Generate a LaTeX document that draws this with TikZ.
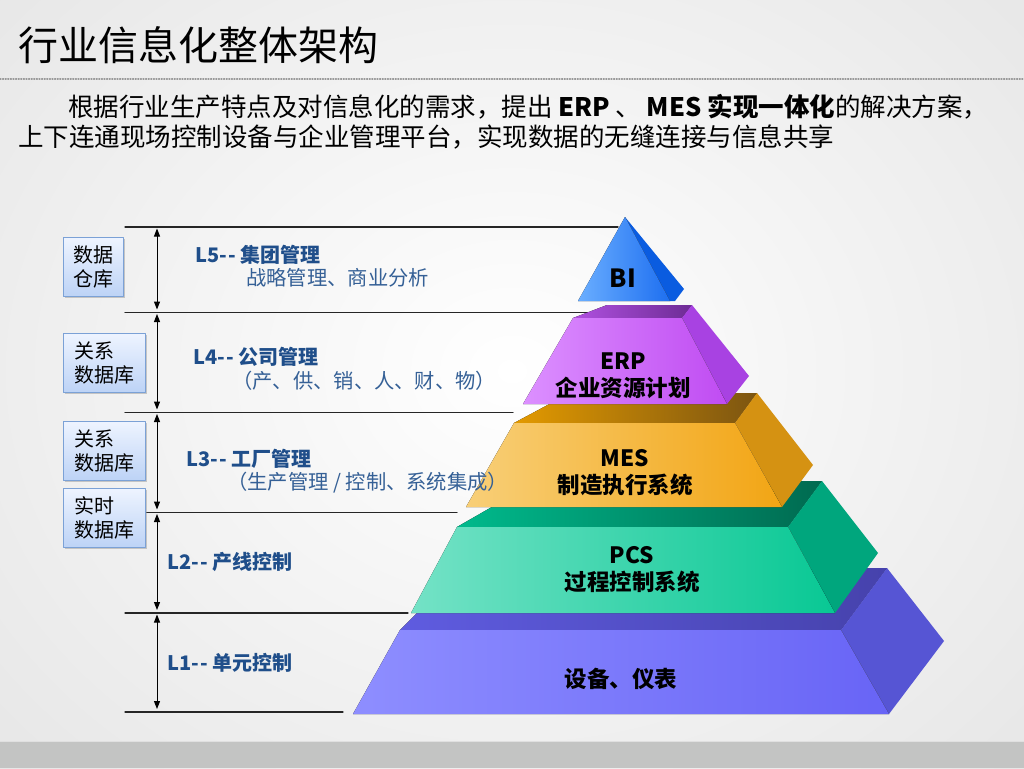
\documentclass[tikz,border=0pt]{standalone}
\usepackage{fontspec}
\setmainfont{Noto Sans CJK SC}
\usepackage{xcolor}
\usetikzlibrary{arrows.meta, shadows}
\definecolor{lvblue}{HTML}{1F4E8A}
\definecolor{boxedge}{HTML}{7BA1D6}
\definecolor{boxtop}{HTML}{EEF4FF}
\definecolor{boxbot}{HTML}{BDD3F6}
\definecolor{bandgray}{HTML}{C3C4C3}
\definecolor{devtopL}{HTML}{5F5CE0}\definecolor{devtopR}{HTML}{4642AC}
\definecolor{devside}{HTML}{5655D4}
\definecolor{devL}{HTML}{8E8EFF}\definecolor{devR}{HTML}{6864F6}
\definecolor{pcstopL}{HTML}{00BA8C}\definecolor{pcstopR}{HTML}{006A50}
\definecolor{pcsside}{HTML}{00A67D}
\definecolor{pcsL}{HTML}{74E2C6}\definecolor{pcsR}{HTML}{08C894}
\definecolor{mestopL}{HTML}{E39A00}\definecolor{mestopR}{HTML}{7C5511}
\definecolor{messide}{HTML}{D59212}
\definecolor{mesL}{HTML}{F8CF78}\definecolor{mesR}{HTML}{F2A514}
\definecolor{erptopL}{HTML}{B050E0}\definecolor{erptopR}{HTML}{6E2C95}
\definecolor{erpside}{HTML}{A842E2}
\definecolor{erpL}{HTML}{DC90FF}\definecolor{erpR}{HTML}{C04CF2}
\definecolor{biside}{HTML}{0A5CE0}
\definecolor{biL}{HTML}{6AAEFF}\definecolor{biR}{HTML}{1E6FF0}

\begin{document}
\begin{tikzpicture}[x=1pt, y=-1pt, line cap=round, line join=round,
	lvlline/.style={line width=1.3pt, draw=black!85},
	dimarrow/.style={line width=1pt, {Triangle[length=8pt,width=6pt]}-{Triangle[length=8pt,width=6pt]}},
	dbbox/.style={draw=boxedge, line width=1pt, top color=boxtop, bottom color=boxbot,
		minimum height=59pt, inner sep=0pt, align=left, font=\fontsize{20}{24}\selectfont,
		drop shadow={shadow xshift=1.5pt, shadow yshift=-1.5pt, fill=black!40, opacity=0.5}},
	lvltitle/.style={anchor=west, inner sep=0pt, text=lvblue, font=\fontsize{20}{24}\selectfont\bfseries},
	lvlsub/.style={anchor=west, inner sep=0pt, text=lvblue!90, font=\fontsize{20.3}{24}\selectfont},
	layertext/.style={align=center, inner sep=0pt, font=\fontsize{22.5}{27}\selectfont\bfseries}]
	\useasboundingbox (0,0) rectangle (1024,768);
	\shade[inner color=white, outer color=black!11] (-300,-300) rectangle (1324,1042);
	\fill[bandgray] (0,742) rectangle (1024,768);
	\draw[black!12, line width=1.5pt] (0,741.5) -- (1024,741.5);
	
	\node[anchor=west, inner sep=0pt, font=\fontsize{40}{46}\selectfont] (title) at (18,45) {行业信息化整体架构};
	\draw[black!40, line width=1.2pt, dash pattern=on 1pt off 1.6pt] (0,79) -- (1024,79);
	\node[anchor=west, inner sep=0pt, font=\fontsize{25.5}{30}\selectfont] (intro1) at (68,107)
		{根据行业生产特点及对信息化的需求，提出 \textbf{ERP} 、 \textbf{MES 实现一体化}的解决方案，};
	\node[anchor=west, inner sep=0pt, font=\fontsize{25.5}{30}\selectfont] (intro2) at (18,137)
		{上下连通现场控制设备与企业管理平台，实现数据的无缝连接与信息共享};
	
	\draw[lvlline] (125,227) -- (618,227);
	\draw[lvlline] (125,312.5) -- (600,312.5);
	\draw[lvlline] (125,412.5) -- (513,412.5);
	\draw[lvlline] (125,512.5) -- (457,512.5);
	\draw[lvlline] (125,613) -- (408,613);
	\draw[lvlline] (125,712) -- (343,712);
	
	\coordinate (lv6) at (157,227);
	\coordinate (lv5) at (157,312.5);
	\coordinate (lv4) at (157,412.5);
	\coordinate (lv3) at (157,512.5);
	\coordinate (lv2) at (157,613);
	\coordinate (lv1) at (157,712);
	\foreach \i/\j in {6/5,5/4,4/3,3/2,2/1}
		\draw[dimarrow] ([yshift=-1.5pt]lv\i) -- ([yshift=3pt]lv\j);
	
	\node[dbbox, minimum width=60pt] (dwh) at (93,266.5) {数据\\仓库};
	\node[dbbox, minimum width=82pt] (rdb1) at (104,362.5) {关系\\数据库};
	\node[dbbox, minimum width=82pt] (rdb2) at (104,450.5) {关系\\数据库};
	\node[dbbox, minimum width=82pt] (rtdb) at (104,517.5) {实时\\数据库};
	
	% 设备、仪表
	\fill[left color=devtopL, right color=devtopR] (400,630) -- (462,568) -- (887,568) -- (841,630) -- cycle;
	\fill[devside] (841,630) -- (887,568) -- (944,641) -- (889,714) -- cycle;
	\fill[left color=devL, right color=devR] (353,714) -- (400,630) -- (841,630) -- (889,714) -- cycle;
	% PCS
	\fill[left color=pcstopL, right color=pcstopR] (457,527) -- (537,481) -- (822,481) -- (788,527) -- cycle;
	\fill[pcsside] (788,527) -- (822,481) -- (878,553) -- (835,613) -- cycle;
	\fill[left color=pcsL, right color=pcsR] (411,613) -- (457,527) -- (788,527) -- (835,613) -- cycle;
	% MES
	\fill[left color=mestopL, right color=mestopR] (514,423) -- (570,393) -- (757,393) -- (735,423) -- cycle;
	\fill[messide] (735,423) -- (757,393) -- (813,465) -- (782,507) -- cycle;
	\fill[left color=mesL, right color=mesR] (466,507) -- (514,423) -- (735,423) -- (782,507) -- cycle;
	% ERP
	\fill[left color=erptopL, right color=erptopR] (573,318) -- (607,305) -- (692,305) -- (682,318) -- cycle;
	\fill[erpside] (682,318) -- (692,305) -- (749,376) -- (727,404) -- cycle;
	\fill[left color=erpL, right color=erpR] (523,404) -- (573,318) -- (682,318) -- (727,404) -- cycle;
	% BI
	\fill[biside] (625,217) -- (684,289) -- (675,301) -- (670,301) -- cycle;
	\fill[left color=biL, right color=biR] (578,301) -- (625,217) -- (670,301) -- cycle;
	
	\node[layertext, font=\fontsize{25}{30}\selectfont\bfseries] (bi) at (623,278) {BI};
	\node[layertext] (erp) at (623,375.5) {ERP\\企业资源计划};
	\node[layertext] (mes) at (625,473) {MES\\制造执行系统};
	\node[layertext] (pcs) at (632,570) {PCS\\过程控制系统};
	\node[layertext] (dev) at (621,679) {设备、仪表};
	
	\node[lvltitle] (l5) at (195,255) {L5-\kern1.5pt- 集团管理};
	\node[lvlsub] (l5s) at (246,278) {战略管理、商业分析};
	\node[lvltitle] (l4) at (193,357) {L4-\kern1.5pt- 公司管理};
	\node[lvlsub] (l4s) at (232,381) {（产、供、销、人、财、物）};
	\node[lvltitle] (l3) at (186,459) {L3-\kern1.5pt- 工厂管理};
	\node[lvlsub] (l3s) at (227,483) {（生产管理 / 控制、系统集成）};
	\node[lvltitle] (l2) at (167,562) {L2-\kern1.5pt- 产线控制};
	\node[lvltitle] (l1) at (167,663) {L1-\kern1.5pt- 单元控制};
\end{tikzpicture}
\end{document}
